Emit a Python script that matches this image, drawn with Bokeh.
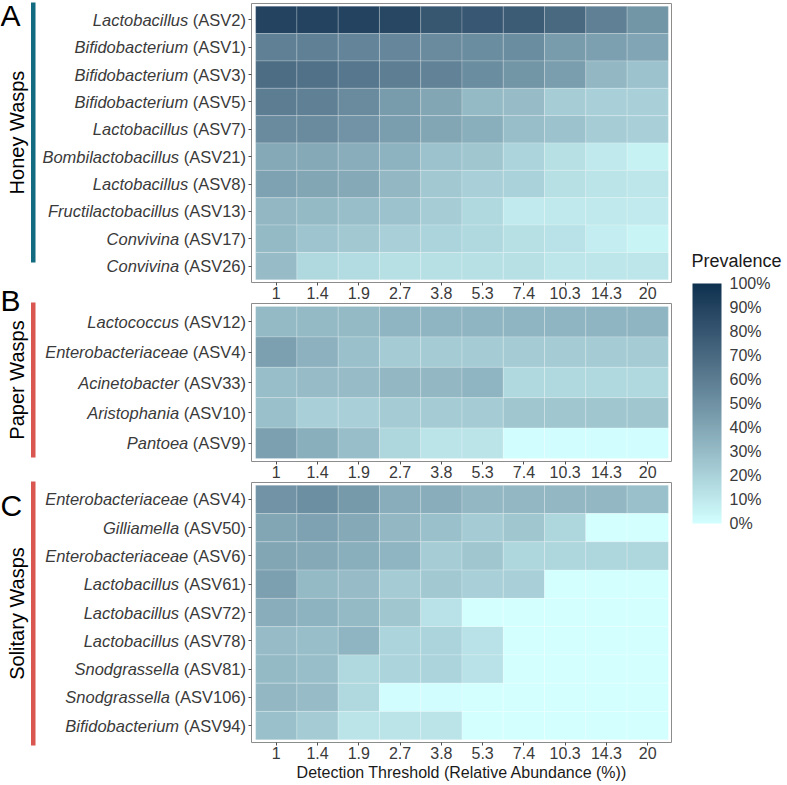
import numpy as np
from bokeh.plotting import figure
from bokeh.models import (ColumnDataSource, LinearColorMapper, ColorBar, FixedTicker,
                          Range1d)
from bokeh.layouts import row, column
from bokeh.embed import file_html
from bokeh.resources import INLINE

# ---------------------------------------------------------------- data
thresholds = ["1", "1.4", "1.9", "2.7", "3.8", "5.3", "7.4", "10.3", "14.3", "20"]

honey_genus = ["Lactobacillus", "Bifidobacterium", "Bifidobacterium", "Bifidobacterium",
               "Lactobacillus", "Bombilactobacillus", "Lactobacillus",
               "Fructilactobacillus", "Convivina", "Convivina"]
honey_asv = ["ASV2", "ASV1", "ASV3", "ASV5", "ASV7", "ASV21", "ASV8", "ASV13", "ASV17", "ASV26"]
honey_prev = [
    [90, 90, 90, 88, 80, 79, 77, 70, 58, 48],
    [58, 58, 56, 55, 53, 52, 52, 45, 43, 41],
    [68, 66, 63, 59, 57, 52, 48, 44, 32, 27],
    [60, 58, 53, 45, 40, 31, 30, 22, 21, 21],
    [53, 53, 49, 44, 40, 36, 29, 27, 22, 21],
    [39, 39, 37, 34, 27, 25, 19, 14, 10, 6],
    [42, 40, 39, 32, 24, 21, 20, 14, 12, 11],
    [32, 31, 29, 27, 22, 17, 9, 10, 10, 9],
    [31, 26, 24, 21, 19, 17, 14, 13, 8, 5],
    [30, 17, 16, 14, 14, 14, 14, 11, 11, 11],
]

paper_genus = ["Lactococcus", "Enterobacteriaceae", "Acinetobacter", "Aristophania", "Pantoea"]
paper_asv = ["ASV12", "ASV4", "ASV33", "ASV10", "ASV9"]
paper_prev = [
    [31, 31, 31, 33, 33, 33, 33, 33, 33, 33],
    [43, 35, 28, 23, 23, 23, 23, 23, 23, 23],
    [29, 30, 30, 32, 32, 33, 17, 17, 17, 17],
    [28, 21, 21, 23, 23, 23, 25, 25, 25, 25],
    [43, 36, 29, 18, 12, 12, 1, 1, 1, 1],
]

solitary_genus = ["Enterobacteriaceae", "Gilliamella", "Enterobacteriaceae", "Lactobacillus",
                  "Lactobacillus", "Lactobacillus", "Snodgrassella", "Snodgrassella",
                  "Bifidobacterium"]
solitary_asv = ["ASV4", "ASV50", "ASV6", "ASV61", "ASV72", "ASV78", "ASV81", "ASV106", "ASV94"]
solitary_prev = [
    [49, 51, 46, 37, 37, 32, 32, 32, 32, 28],
    [40, 42, 39, 32, 28, 23, 25, 18, 0, 0],
    [40, 39, 36, 33, 22, 25, 18, 18, 18, 18],
    [43, 31, 30, 23, 24, 21, 21, 0, 0, 0],
    [37, 34, 31, 25, 13, 0, 0, 0, 0, 0],
    [30, 29, 33, 19, 19, 13, 0, 0, 0, 0],
    [31, 29, 17, 19, 19, 13, 0, 0, 0, 0],
    [32, 30, 17, 1, 1, 0, 0, 0, 0, 0],
    [28, 23, 12, 12, 12, 0, 0, 0, 0, 0],
]

legend_ticks = [0, 10, 20, 30, 40, 50, 60, 70, 80, 90, 100]

# ---------------------------------------------------------------- style / layout
FONT = "Liberation Sans"
LOW, HIGH = "#D3FFFF", "#0D3250"
TEXT_GREY = "#3a3a3a"
TOTAL_H = 785
LABEL_W = 247          # width of the left canvas holding row labels and group strips
LEGEND_W = 115
FRAME_W = 421
PAD = 0.6              # discrete-scale padding around the tiles

# frame top (page px), frame height, border above, border below
GEOM = {
    "A": dict(top=3, h=279, b_top=3, b_bot=21),
    "B": dict(top=303, h=158, b_top=0, b_bot=21),
    "C": dict(top=482, h=260, b_top=0, b_bot=43),
}

_M = np.array([[0.4124, 0.3576, 0.1805], [0.2126, 0.7152, 0.0722], [0.0193, 0.1192, 0.9505]])
_WHITE = np.array([0.95047, 1.0, 1.08883])


def hex_to_lab(h):
    rgb = np.array([int(h[i:i + 2], 16) for i in (1, 3, 5)]) / 255.0
    lin = np.where(rgb <= 0.04045, rgb / 12.92, ((rgb + 0.055) / 1.055) ** 2.4)
    xyz = _M @ lin / _WHITE
    f = np.where(xyz > 0.008856, np.cbrt(xyz), 7.787 * xyz + 16 / 116)
    return np.array([116 * f[1] - 16, 500 * (f[0] - f[1]), 200 * (f[1] - f[2])])


def lab_to_hex(lab):
    L, a, b = lab
    fy = (L + 16) / 116
    f = np.array([fy + a / 500, fy, fy - b / 200])
    xyz = np.where(f ** 3 > 0.008856, f ** 3, (f - 16 / 116) / 7.787) * _WHITE
    lin = np.clip(np.linalg.solve(_M, xyz), 0, None)
    rgb = np.where(lin <= 0.0031308, 12.92 * lin, 1.055 * lin ** (1 / 2.4) - 0.055)
    rgb = np.clip(np.round(rgb * 255), 0, 255).astype(int)
    return "#%02x%02x%02x" % tuple(rgb)


lab_lo, lab_hi = hex_to_lab(LOW), hex_to_lab(HIGH)
palette = [lab_to_hex(lab_lo + t * (lab_hi - lab_lo)) for t in np.linspace(0, 1, 256)]
mapper = LinearColorMapper(palette=palette, low=0, high=100)

# advance widths (per 1000 em) of Liberation Sans for the upright part of the labels
_ADV = {" ": 278, "(": 333, ")": 333, "A": 667, "S": 667, "V": 667}
_ADV.update({d: 556 for d in "0123456789"})


def text_width(s, size):
    return sum(_ADV[c] for c in s) * size / 1000.0


def panel(key, prev, x_title=None):
    g = GEOM[key]
    n = len(prev)
    p = figure(frame_width=FRAME_W, frame_height=g["h"],
               x_range=Range1d(-PAD, len(thresholds) - 1 + PAD),
               y_range=Range1d(n - 1 + PAD, -PAD),
               output_backend="svg", toolbar_location=None,
               min_border_left=4, min_border_right=0,
               min_border_top=g["b_top"], min_border_bottom=g["b_bot"])
    xs, ys, vs = [], [], []
    for i, r in enumerate(prev):
        for j, v in enumerate(r):
            xs.append(j)
            ys.append(i)
            vs.append(v)
    src = ColumnDataSource(dict(x=xs, y=ys, v=vs))
    p.rect("x", "y", 1, 1, source=src,
           fill_color={"field": "v", "transform": mapper},
           line_color="white", line_alpha=0.35, line_width=0.6)

    p.grid.visible = False
    p.outline_line_color = "#8c8c8c"
    p.outline_line_width = 1

    xa = p.xaxis[0]
    xa.ticker = FixedTicker(ticks=list(range(len(thresholds))))
    xa.major_label_overrides = {j: t for j, t in enumerate(thresholds)}
    xa.axis_line_color = None
    xa.major_tick_in = 0
    xa.major_tick_out = 3
    xa.major_tick_line_color = "#4d4d4d"
    xa.minor_tick_line_color = None
    xa.major_label_standoff = 1
    xa.major_label_text_font = FONT
    xa.major_label_text_font_size = "16px"
    xa.major_label_text_color = TEXT_GREY
    if x_title:
        xa.axis_label = x_title
        xa.axis_label_text_font = FONT
        xa.axis_label_text_font_size = "16px"
        xa.axis_label_text_font_style = "normal"
        xa.axis_label_text_color = "#1a1a1a"
        xa.axis_label_standoff = 2

    ya = p.yaxis[0]
    ya.ticker = FixedTicker(ticks=list(range(n)))
    ya.major_label_overrides = {i: "" for i in range(n)}
    ya.major_label_standoff = 0
    ya.axis_line_color = None
    ya.major_tick_in = 0
    ya.major_tick_out = 3
    ya.major_tick_line_color = "#4d4d4d"
    ya.minor_tick_line_color = None
    return p


pA = panel("A", honey_prev)
pB = panel("B", paper_prev)
pC = panel("C", solitary_prev, x_title="Detection Threshold (Relative Abundance (%))")

# ---------------------------------------------------------------- left canvas: row labels and groups
left = figure(width=LABEL_W, height=TOTAL_H, x_range=Range1d(0, LABEL_W),
              y_range=Range1d(TOTAL_H, 0), output_backend="svg", toolbar_location=None,
              min_border=0)
left.axis.visible = False
left.grid.visible = False
left.outline_line_color = None

LABEL_SIZE = 16.5
LABEL_RIGHT = LABEL_W - 1.5
reg_x, reg_y, reg_t, it_x, it_y, it_t = [], [], [], [], [], []
for key, genus, asv in (("A", honey_genus, honey_asv), ("B", paper_genus, paper_asv),
                        ("C", solitary_genus, solitary_asv)):
    g = GEOM[key]
    n = len(asv)
    row_h = g["h"] / (n - 1 + 2 * PAD)
    for i, (gen, a) in enumerate(zip(genus, asv)):
        y = g["top"] + (i + PAD) * row_h
        reg = f"({a})"
        reg_x.append(LABEL_RIGHT)
        reg_y.append(y)
        reg_t.append(reg)
        it_x.append(LABEL_RIGHT - text_width(" " + reg, LABEL_SIZE))
        it_y.append(y)
        it_t.append(gen)

left.text(x=reg_x, y=reg_y, text=reg_t, text_align="right", text_baseline="middle",
          text_font={"value": FONT}, text_font_size=f"{LABEL_SIZE}px", text_color=TEXT_GREY)
left.text(x=it_x, y=it_y, text=it_t, text_align="right", text_baseline="middle",
          text_font={"value": FONT}, text_font_style="italic",
          text_font_size=f"{LABEL_SIZE}px", text_color=TEXT_GREY)

groups = [
    # letter, title, colour, bar top, bar bottom, letter centre
    ("A", "Honey Wasps", "#136B82", 2, 262, 15),
    ("B", "Paper Wasps", "#DA5650", 302, 457, 300),
    ("C", "Solitary Wasps", "#DA5650", 481, 745, 505),
]
left.quad(left=[30.5] * 3, right=[35] * 3,
          top=[g[3] for g in groups], bottom=[g[4] for g in groups],
          fill_color=[g[2] for g in groups], line_color=None)
left.text(x=[0] * 3, y=[g[5] for g in groups], text=[g[0] for g in groups],
          text_font={"value": FONT}, text_font_size="30px", text_baseline="middle",
          text_align="left", text_color="#000000")
left.text(x=[16] * 3, y=[(g[3] + g[4]) / 2 for g in groups], text=[g[1] for g in groups],
          angle=np.pi / 2, text_font={"value": FONT}, text_font_size="20px",
          text_align="center", text_baseline="middle", text_color="#000000")

# ---------------------------------------------------------------- colour legend
leg = figure(width=LEGEND_W, height=TOTAL_H, x_range=Range1d(0, LEGEND_W),
             y_range=Range1d(TOTAL_H, 0), output_backend="svg", toolbar_location=None,
             min_border=0)
leg.axis.visible = False
leg.grid.visible = False
leg.outline_line_color = None
leg.text(x=[19], y=[260], text=["Prevalence"], text_font={"value": FONT},
         text_font_size="18px", text_baseline="middle", text_align="left",
         text_color="#1a1a1a")
cb = ColorBar(color_mapper=mapper, ticker=FixedTicker(ticks=legend_ticks),
              major_label_overrides={t: f"{t}%" for t in legend_ticks},
              width=29, height=240,
              major_label_text_font=FONT, major_label_text_font_size="16px",
              major_label_text_color=TEXT_GREY, label_standoff=8,
              major_tick_line_color=None, minor_tick_line_color=None,
              bar_line_color=None, border_line_color=None,
              background_fill_alpha=0, padding=0, margin=0,
              location=(20, 262))
leg.add_layout(cb, "center")

layout = row(left, column(pA, pB, pC), leg)

with open("out.html", "w") as f:
    f.write(file_html(layout, INLINE))
